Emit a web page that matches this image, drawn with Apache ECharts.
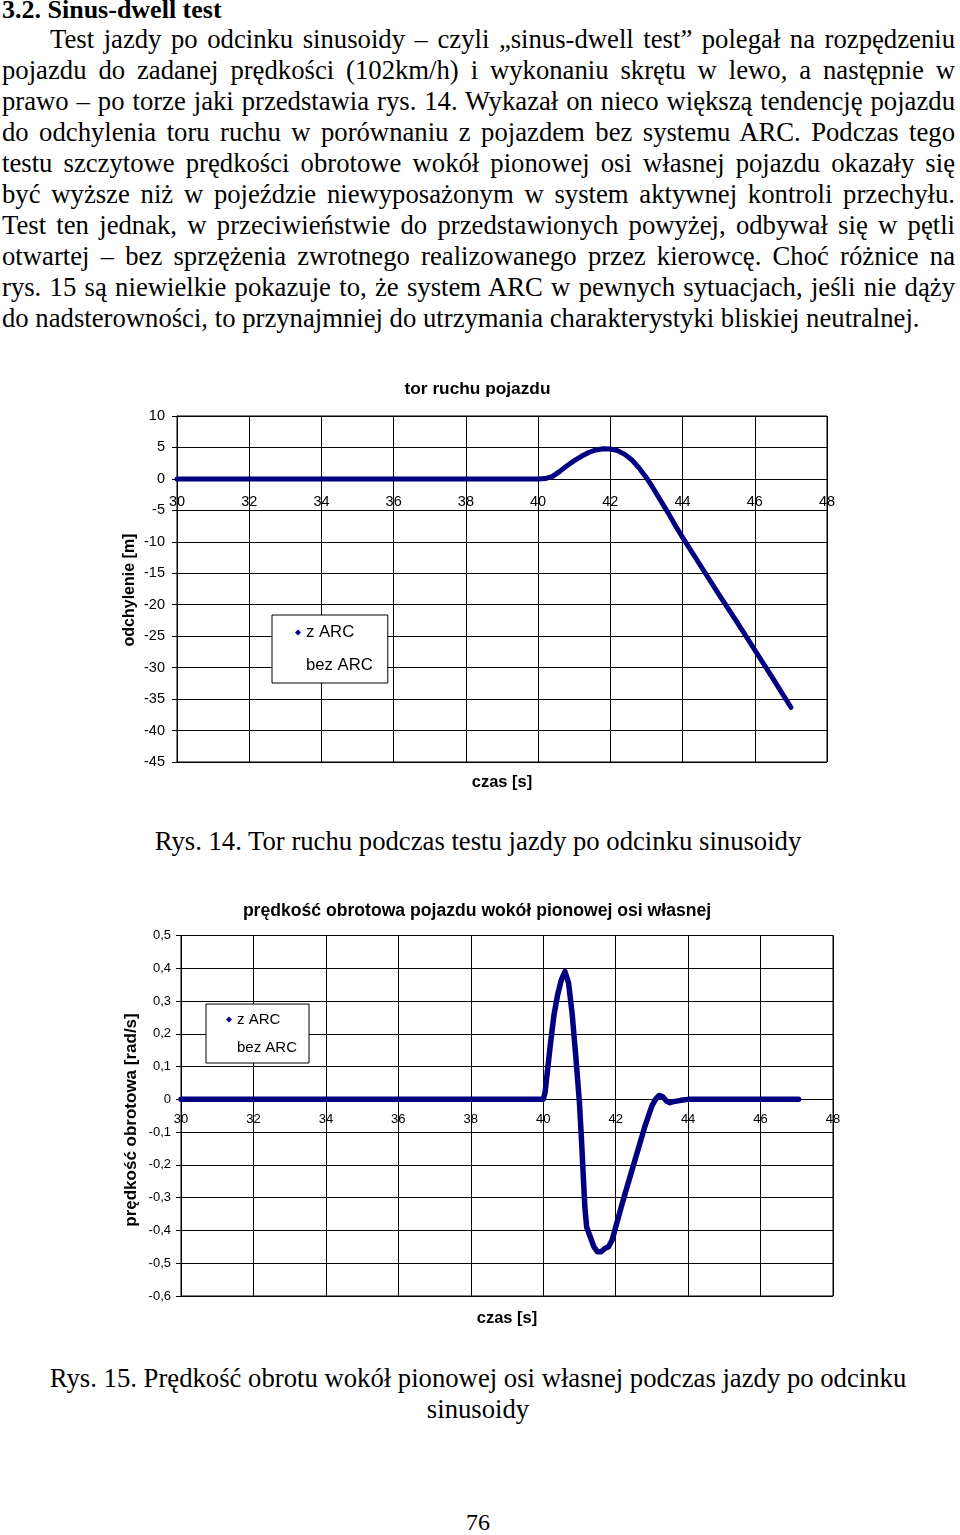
<!DOCTYPE html>
<html><head><meta charset="utf-8">
<script src="https://cdn.jsdelivr.net/npm/echarts@6/dist/echarts.min.js"></script>
<style>
html,body{margin:0;padding:0;background:#fff;}
#page{position:relative;width:960px;height:1535px;overflow:hidden;font-family:"Liberation Serif","Times New Roman",serif;color:#000;}
.ln{position:absolute;left:2px;width:953px;font-size:26.7px;line-height:31px;white-space:nowrap;text-align:justify;text-align-last:justify;}
.last{text-align:left;text-align-last:left;}
.cap{position:absolute;left:0;width:956px;text-align:center;font-size:26.7px;line-height:31px;white-space:nowrap;}
.chart{position:absolute;left:0;width:960px;}
</style></head><body>
<div id="page">
<div class="ln last" style="top:-6px;font-weight:bold;font-size:26px;">3.2. Sinus-dwell test</div>
<div class="ln" style="top:24px;padding-left:48px;width:905px;">Test jazdy po odcinku sinusoidy – czyli „sinus-dwell test” polegał na rozpędzeniu</div>
<div class="ln" style="top:55px;">pojazdu do zadanej prędkości (102km/h) i wykonaniu skrętu w lewo, a następnie w</div>
<div class="ln" style="top:86px;">prawo – po torze jaki przedstawia rys. 14. Wykazał on nieco większą tendencję pojazdu</div>
<div class="ln" style="top:117px;">do odchylenia toru ruchu w porównaniu z pojazdem bez systemu ARC. Podczas tego</div>
<div class="ln" style="top:148px;">testu szczytowe prędkości obrotowe wokół pionowej osi własnej pojazdu okazały się</div>
<div class="ln" style="top:179px;">być wyższe niż w pojeździe niewyposażonym w system aktywnej kontroli przechyłu.</div>
<div class="ln" style="top:210px;">Test ten jednak, w przeciwieństwie do przedstawionych powyżej, odbywał się w pętli</div>
<div class="ln" style="top:241px;">otwartej – bez sprzężenia zwrotnego realizowanego przez kierowcę. Choć różnice na</div>
<div class="ln" style="top:272px;">rys. 15 są niewielkie pokazuje to, że system ARC w pewnych sytuacjach, jeśli nie dąży</div>
<div class="ln last" style="top:303px;">do nadsterowności, to przynajmniej do utrzymania charakterystyki bliskiej neutralnej.</div>

<div id="c1" class="chart" style="top:370px;height:440px;"></div>
<div class="cap" style="top:826px;">Rys. 14. Tor ruchu podczas testu jazdy po odcinku sinusoidy</div>

<div id="c2" class="chart" style="top:880px;height:460px;"></div>
<div class="cap" style="top:1363px;">Rys. 15. Prędkość obrotu wokół pionowej osi własnej podczas jazdy po odcinku</div>
<div class="cap" style="top:1394px;">sinusoidy</div>
<div class="cap" style="top:1507px;font-size:24px;">76</div>
</div>
<script>
// ---- Data ----
var seriesNames = ['z ARC', 'bez ARC'];

// Rys. 14: odchylenie [m] vs czas [s]
var t1 = [30, 31, 32, 33, 34, 35, 36, 37, 38, 39, 40, 40.2, 40.4, 40.6, 40.8, 41.0, 41.2, 41.4, 41.6, 41.8, 42.0, 42.2, 42.4, 42.6, 42.8, 43.0, 43.2, 43.4, 43.6, 43.8, 44.0, 44.5, 45.0, 45.5, 46.0, 46.5, 47.0];
var dev1 = [0, 0, 0, 0, 0, 0, 0, 0, 0, 0, 0, 0.05, 0.4, 1.2, 2.1, 2.9, 3.6, 4.2, 4.6, 4.8, 4.75, 4.5, 3.9, 3.0, 1.7, 0.2, -1.6, -3.5, -5.4, -7.4, -9.3, -13.8, -18.3, -22.7, -27.2, -31.7, -36.3];

// Rys. 15: prędkość obrotowa [rad/s] vs czas [s]
var t2 = [30, 32, 34, 36, 38, 40, 40.05, 40.1, 40.2, 40.3, 40.4, 40.5, 40.6, 40.65, 40.7, 40.8, 40.9, 41.0, 41.05, 41.1, 41.15, 41.2, 41.3, 41.4, 41.5, 41.6, 41.7, 41.8, 41.9, 42.0, 42.2, 42.4, 42.6, 42.8, 43.0, 43.1, 43.2, 43.3, 43.4, 43.5, 43.6, 43.8, 44.0, 45, 46, 47.05];
var yaw2 = [0, 0, 0, 0, 0, 0, 0.02, 0.07, 0.17, 0.26, 0.32, 0.365, 0.39, 0.385, 0.355, 0.26, 0.13, -0.01, -0.11, -0.22, -0.33, -0.39, -0.42, -0.45, -0.465, -0.465, -0.455, -0.45, -0.43, -0.39, -0.31, -0.235, -0.16, -0.085, -0.02, 0.0, 0.012, 0.008, -0.005, -0.01, -0.007, -0.003, 0, 0, 0, 0];

// ---- Helpers ----
function pairs(xs, ys) { return xs.map(function (x, i) { return [x, ys[i]]; }); }
var NAVY = '#000080';
var SANS = '"Liberation Sans", Arial, sans-serif';
function commaFmt(v) { var r = Math.round(v * 10) / 10; return String(r).replace('.', ','); }

function txt(s, x, y, size, rot) {
  return { type: 'text', x: x, y: y, rotation: rot || 0, silent: true,
    style: { text: s, fill: '#000', font: 'bold ' + size + 'px ' + SANS, align: 'center', verticalAlign: 'middle' } };
}

function makeOption(cfg) {
  var g = cfg.grid;
  var zeroFromBottom = g.height * (0 - cfg.yMin) / (cfg.yMax - cfg.yMin);
  return {
    animation: false,
    textStyle: { fontFamily: SANS, color: '#000' },
    graphic: [
      txt(cfg.title, cfg.titleX, cfg.titleY, cfg.titleSize),
      txt('czas [s]', cfg.xNameX, cfg.xNameY, 16.5),
      txt(cfg.yName, cfg.yNameX, cfg.yNameY, cfg.yNameSize, Math.PI / 2)
    ],
    grid: { left: g.left, right: g.right, top: g.top, height: g.height,
      show: true, borderColor: '#000', borderWidth: 1, backgroundColor: 'transparent' },
    legend: {
      orient: 'vertical', left: cfg.legend.left, top: cfg.legend.top,
      backgroundColor: '#fff', borderColor: '#000', borderWidth: 1,
      padding: cfg.legend.padding, itemGap: cfg.legend.gap, itemWidth: 6, itemHeight: 6,
      textStyle: { fontFamily: SANS, fontSize: cfg.legend.fontSize, color: '#000' },
      data: [{ name: seriesNames[0], icon: 'diamond' }, { name: seriesNames[1], icon: 'diamond' }]
    },
    xAxis: {
      type: 'value', min: 30, max: 48, interval: 2,
      offset: -zeroFromBottom,
      axisLine: { onZero: false, lineStyle: { color: '#000', width: 1 } },
      axisTick: { show: true, length: 4, lineStyle: { color: '#000' } },
      axisLabel: { fontFamily: SANS, fontSize: cfg.labelSize, color: '#000', margin: cfg.xLabelMargin },
      splitLine: { show: true, lineStyle: { color: '#000', width: 1 } }
    },
    yAxis: {
      type: 'value', min: cfg.yMin, max: cfg.yMax, interval: cfg.yInt,
      axisLine: { show: true, lineStyle: { color: '#000', width: 1 } },
      axisTick: { show: true, length: 5, lineStyle: { color: '#000' } },
      axisLabel: { fontFamily: SANS, fontSize: cfg.labelSize, color: '#000', margin: cfg.yLabelMargin, formatter: cfg.yFmt },
      splitLine: { show: true, lineStyle: { color: '#000', width: 1 } }
    },
    series: [
      { name: seriesNames[0], type: 'line', data: cfg.data, showSymbol: false, symbol: 'diamond',
        color: NAVY, lineStyle: { color: NAVY, width: cfg.lineWidth, cap: 'round', join: 'round' }, z: 5 },
      { name: seriesNames[1], type: 'line', data: [], showSymbol: false,
        color: 'rgba(0,0,0,0)', lineStyle: { color: 'rgba(0,0,0,0)' } }
    ]
  };
}

var c1 = echarts.init(document.getElementById('c1'), null, { renderer: 'canvas' });
c1.setOption(makeOption({
  title: 'tor ruchu pojazdu', titleX: 477.5, titleY: 19.5, titleSize: 17.3,
  xNameX: 502, xNameY: 412,
  yName: 'odchylenie [m]', yNameX: 130, yNameY: 220, yNameSize: 16,
  grid: { left: 177, right: 133, top: 46, height: 346 },
  legend: { left: 272, top: 245, padding: [9, 15, 9, 23], gap: 16, fontSize: 16.7 },
  labelSize: 14.5, xLabelMargin: 16, yLabelMargin: 12, lineWidth: 5,
  yMin: -45, yMax: 10, yInt: 5,
  yFmt: function (v) { return String(v); },
  data: pairs(t1, dev1)
}));

var c2 = echarts.init(document.getElementById('c2'), null, { renderer: 'canvas' });
c2.setOption(makeOption({
  title: 'prędkość obrotowa pojazdu wokół pionowej osi własnej', titleX: 477, titleY: 31.5, titleSize: 17.6,
  xNameX: 507, xNameY: 438.5,
  yName: 'prędkość obrotowa [rad/s]', yNameX: 131, yNameY: 240, yNameSize: 17,
  grid: { left: 181, right: 127, top: 55.5, height: 360.5 },
  legend: { left: 206, top: 124, padding: [8, 12, 8, 20], gap: 13, fontSize: 15 },
  labelSize: 13, xLabelMargin: 14, yLabelMargin: 10, lineWidth: 5.5,
  yMin: -0.6, yMax: 0.5, yInt: 0.1,
  yFmt: commaFmt,
  data: pairs(t2, yaw2)
}));
</script>
</body></html>
